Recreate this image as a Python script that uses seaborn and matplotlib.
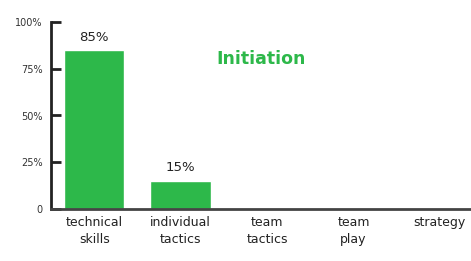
import matplotlib
matplotlib.use("Agg")
import matplotlib.pyplot as plt
import seaborn as sns
import pandas as pd

# Chart data
categories = ["technical\nskills", "individual\ntactics", "team\ntactics", "team\nplay", "strategy"]
shares = [85, 15, 0, 0, 0]
bar_labels = ["85%", "15%", "", "", ""]
ytick_values = [0, 25, 50, 75, 100]
ytick_labels = ["0", "25%", "50%", "75%", "100%"]

green = "#2db84a"

sns.set_style("white")
plt.rcParams['font.family'] = ['DejaVu Sans']

df = pd.DataFrame({"category": categories, "share": shares})

fig = plt.figure(figsize=(4.71, 2.61), dpi=100)
ax = fig.add_axes([51 / 471, 52 / 261, 1 - 51 / 471, 187 / 261])

sns.barplot(data=df, x="category", y="share", color=green, saturation=1,
            width=0.7, ax=ax)

ax.set_ylim(0, 100)
ax.set_xlim(-0.5, 4.36)
ax.set_yticks(ytick_values)
ax.set_yticklabels(ytick_labels, fontsize=7, color="#333333")
ax.tick_params(axis="y", left=True, direction="in", length=7, width=2,
               color="#222222", pad=6)
ax.tick_params(axis="x", bottom=False, length=0, labelsize=9, labelcolor="#222222", pad=5)
for lab in ax.get_xticklabels():
    lab.set_linespacing(1.45)
ax.set_xlabel("")
ax.set_ylabel("")

for side in ["top", "right"]:
    ax.spines[side].set_visible(False)
ax.spines["left"].set_linewidth(2)
ax.spines["left"].set_color("#222222")
ax.spines["bottom"].set_linewidth(2)
ax.spines["bottom"].set_color("#444444")

# value labels above the bars
for i, (v, lab) in enumerate(zip(shares, bar_labels)):
    if lab:
        ax.text(i, v + 3.5, lab, ha="center", va="bottom", fontsize=9.5, color="#222222")

ax.text(0.50, 0.80, "Initiation", transform=ax.transAxes, ha="center", va="center",
        fontsize=12.5, fontweight="bold", color=green)

fig.savefig("out.png", dpi=100)
